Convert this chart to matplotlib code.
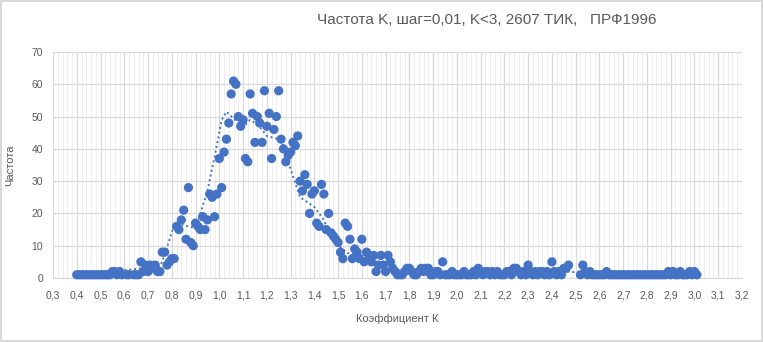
import numpy as np
import matplotlib
matplotlib.use("Agg")
import matplotlib.pyplot as plt
from matplotlib.ticker import MultipleLocator, FuncFormatter

# Frequency of coefficient K, step 0.01 (from 0.40 to 3.01)
k_start, k_step = 0.40, 0.01
counts = [
    1, 1, 1, 1, 1, 1, 1, 1, 1, 1,          # 0.40
    1, 1, 1, 1, 1, 2, 2, 1, 2, 1,          # 0.50
    np.nan, 1, 1, np.nan, 1, 1, 1, 5, 2, 4,  # 0.60
    2, 4, 3, 4, 2, 2, 8, 8, 4, 5,          # 0.70
    6, 6, 16, 15, 18, 21, 12, 28, 11, 10,  # 0.80
    17, 16, 15, 19, 15, 18, 26, 25, 19, 26,  # 0.90
    37, 28, 39, 43, 48, 57, 61, 60, 50, 47,  # 1.00
    49, 37, 36, 57, 51, 42, 50, 48, 42, 58,  # 1.10
    47, 51, 37, 46, 50, 58, 43, 40, 36, 38,  # 1.20
    39, 42, 41, 44, 30, 27, 32, 29, 20, 26,  # 1.30
    27, 17, 16, 29, 26, 15, 20, 14, 13, 12,  # 1.40
    11, 8, 6, 17, 16, 12, 6, 9, 8, 6,      # 1.50
    12, 5, 8, 6, 5, 7, 2, 4, 7, 4,         # 1.60
    2, 7, 5, 3, 2, 1, 1, 1, 2, 3,          # 1.70
    3, 2, 1, 1, 2, 3, 2, 3, 3, 1,          # 1.80
    1, 2, 2, 1, 5, 1, 1, 1, 2, 1,          # 1.90
    1, 1, 1, 2, 1, 1, 1, 2, 1, 3,          # 2.00
    2, 1, 2, 2, 1, 2, 1, 2, 1, 1,          # 2.10
    1, 2, 2, 1, 3, 3, 2, 1, 2, 1,          # 2.20
    4, 2, 1, 2, 1, 2, 2, 1, 2, 1,          # 2.30
    5, 2, 1, 2, 1, 3, 3, 4, np.nan, np.nan,  # 2.40
    np.nan, np.nan, 1, 4, 2, 1, 2, 1, 1, 1,  # 2.50
    1, 1, 1, 2, 1, 1, 1, 1, 1, 1,          # 2.60
    1, 1, 1, 1, 1, 1, 1, 1, 1, 1,          # 2.70
    1, 1, 1, 1, 1, 1, 1, 1, 1, 2,          # 2.80
    1, 2, 1, 1, 2, 1, 1, 1, 2, 1,          # 2.90
    2, 1,                                  # 3.00
]
k = np.round(k_start + k_step * np.arange(len(counts)), 2)

# smoothed trend (dotted)
trend_k = [0.40, 0.50, 0.57, 0.62, 0.67, 0.74, 0.76, 0.81, 0.84, 0.90, 0.92,
           0.95, 0.98, 1.01, 1.03, 1.08, 1.09, 1.13, 1.15, 1.18, 1.20, 1.25,
           1.28, 1.29, 1.34, 1.38, 1.40, 1.44, 1.47, 1.49, 1.54, 1.58, 1.62,
           1.66, 1.70, 1.75, 1.80, 1.90, 2.00, 2.10, 2.20, 2.30, 2.40, 2.47,
           2.53, 2.60, 2.70, 2.80, 2.90, 3.01]
trend_v = [1.0, 0.8, 2.5, 2.5, 3.0, 3.0, 5.0, 16.5, 16.5, 15.5, 20.0,
           27.0, 37.5, 49.0, 51.5, 48.0, 46.0, 49.0, 48.0, 46.0, 44.0, 43.0,
           40.0, 36.0, 25.0, 23.0, 22.0, 18.0, 12.8, 10.7, 7.7, 7.5, 6.5,
           5.0, 4.0, 2.5, 2.0, 1.8, 1.5, 1.8, 1.8, 2.0, 2.3, 2.0,
           1.5, 1.2, 1.0, 1.0, 1.3, 1.3]

title = "Частота K, шаг=0,01, K<3, 2607 ТИК,   ПРФ1996"
xlabel = "Коэффициент К"
ylabel = "Частота"

plt.rcParams['font.family'] = ['Liberation Sans', 'DejaVu Sans']
blue = "#4472C4"
text_gray = "#595959"

fig = plt.figure(figsize=(7.63, 3.42), dpi=100)
fig.patch.set_edgecolor("#d9d9d9")
fig.patch.set_linewidth(1.5)
ax = fig.add_axes([53 / 763, 64 / 342, 689 / 763, 226 / 342])

ax.scatter(k, counts, s=44, color=blue, edgecolors='none', zorder=3, clip_on=False)
ax.plot(trend_k, trend_v, color=blue, linestyle=(0, (1, 1.5)), linewidth=1.4, zorder=4)

ax.set_xlim(0.3, 3.2)
ax.set_ylim(0, 70)
ax.xaxis.set_major_locator(MultipleLocator(0.1))
ax.xaxis.set_minor_locator(MultipleLocator(0.02))
ax.yaxis.set_major_locator(MultipleLocator(10))
ax.xaxis.set_major_formatter(FuncFormatter(lambda v, p: f"{v:.1f}".replace('.', ',')))
ax.yaxis.set_major_formatter(FuncFormatter(lambda v, p: f"{v:.0f}"))

ax.grid(which='major', color="#d9d9d9", linewidth=0.9)
ax.grid(which='minor', axis='x', color="#eeeeee", linewidth=0.7)
ax.set_axisbelow(True)
for side in ['top', 'right', 'left']:
    ax.spines[side].set_visible(False)
ax.spines['bottom'].set_color("#d9d9d9")
ax.tick_params(which='both', length=0, colors=text_gray, labelsize=7.5)
ax.tick_params(axis='x', pad=9)
ax.tick_params(axis='y', pad=7)

ax.set_xlabel(xlabel, fontsize=8, color=text_gray, labelpad=9)
ax.set_ylabel(ylabel, fontsize=8, color=text_gray, labelpad=12)
fig.text(487 / 763, 1 - 20 / 342, title, ha='center', va='center',
         fontsize=11, color=text_gray)

fig.savefig("out.png", dpi=100)
